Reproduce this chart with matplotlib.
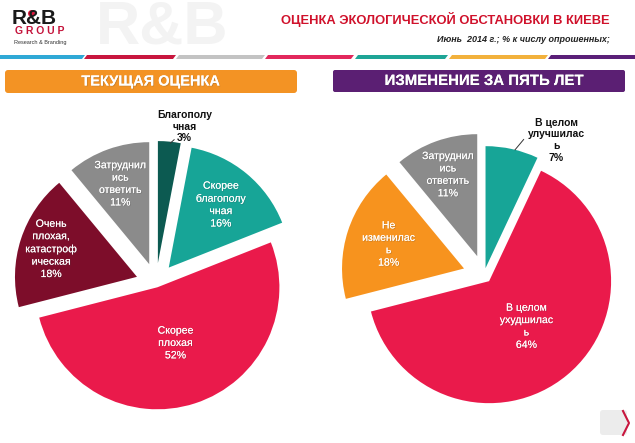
import matplotlib
matplotlib.use("Agg")
import matplotlib.pyplot as plt
import matplotlib.patheffects as pe
from matplotlib.patches import FancyBboxPatch, Polygon
import numpy as np

plt.rcParams['font.family'] = ['Liberation Sans', 'DejaVu Sans']

# текущая оценка
cur_names = ["Благополу\nчная", "Скорее\nблагополу\nчная", "Скорее\nплохая",
             "Очень\nплохая,\nкатастроф\nическая", "Затруднил\nись\nответить"]
cur_vals = [3, 16, 52, 18, 11]
cur_colors = ["#0c5a51", "#17a597", "#ea1a4b", "#7d0d2a", "#8b8b8b"]

# изменение за пять лет
chg_names = ["В целом\nулучшилас\nь", "В целом\nухудшилас\nь",
             "Не\nизменилас\nь", "Затруднил\nись\nответить"]
chg_vals = [7, 64, 18, 11]
chg_colors = ["#17a597", "#ea1a4b", "#f7931e", "#8b8b8b"]

title = "ОЦЕНКА ЭКОЛОГИЧЕСКОЙ ОБСТАНОВКИ В КИЕВЕ"
subtitle = "Июнь  2014 г.; % к числу опрошенных;"
left_head = "ТЕКУЩАЯ ОЦЕНКА"
right_head = "ИЗМЕНЕНИЕ ЗА ПЯТЬ ЛЕТ"

W, H = 635, 443
R = 122

fig = plt.figure(figsize=(6.35, 4.43), dpi=100)
ax = fig.add_axes([0, 0, 1, 1])

shadow = [pe.withSimplePatchShadow(offset=(0.6, -0.6), shadow_rgbFace='#444444', alpha=0.25), pe.Normal()]


def pt(w, frac, ang):
    a = np.radians(ang)
    return w.center[0] + frac * w.r * np.cos(a), w.center[1] + frac * w.r * np.sin(a)


def draw_pie(vals, names, colors, center, explode, dists, outside):
    wedges, _ = ax.pie(vals, colors=colors, startangle=90, counterclock=False,
                       center=center, radius=R, explode=explode)
    for i, w in enumerate(wedges):
        txt = f"{names[i]}\n{vals[i]}%"
        if i in outside:
            d, ang, l0, l1 = outside[i]
            x, y = pt(w, d, ang)
            ax.text(x, y, txt, ha='center', va='center', fontsize=7.5,
                    weight='bold', color='#111111', linespacing=1.2)
            p0 = pt(w, *l0)
            p1 = pt(w, *l1)
            ax.plot([p0[0], p1[0]], [p0[1], p1[1]], color='#333333', lw=0.7)
        else:
            mid = (w.theta1 + w.theta2) / 2
            x, y = pt(w, dists[i], mid)
            ax.text(x, y, txt, ha='center', va='center', fontsize=7.6,
                    color='white', linespacing=1.3, path_effects=shadow)


draw_pie(cur_vals, cur_names, cur_colors, (156, H - 283),
         [20, 20, 4.5, 20, 20], [0, 0.67, 0.48, 0.74, 0.7],
         {0: (1.14, 79, (0.99, 84), (1.02, 82.5))})
draw_pie(chg_vals, chg_names, chg_colors, (484, H - 275),
         [7, 8, 21, 20], [0, 0.48, 0.65, 0.71],
         {0: (1.2, 61, (1.0, 76), (1.1, 73.5))})

# шапка
ax.text(610, H - 19, title, ha='right', va='center', fontsize=9.3,
        weight='bold', color='#d0112b')
ax.text(610, H - 39, subtitle, ha='right', va='center', fontsize=6.5,
        weight='bold', style='italic', color='#222222')

# логотип
ax.text(162, H - 28, "R&B", ha='center', va='center', fontsize=44,
        weight='bold', color='#f3f3f3', zorder=0)
ax.text(12, H - 18, "R&B", ha='left', va='center', fontsize=15,
        weight='bold', color='#1a1a1a')
ax.plot([31], [H - 13], 'o', color='#e0163c', ms=4)
ax.text(40, H - 31, "G R O U P", ha='center', va='center', fontsize=7.5,
        weight='bold', color='#c4123a')
ax.text(40, H - 42, "Research & Branding", ha='center', va='center',
        fontsize=4, color='#333333')

# цветные полосы
stripes = [(-5, 82, "#2fa9d6"), (84, 173, "#c8163e"), (176, 262, "#c3c3c3"),
           (265, 351, "#e2285c"), (355, 445, "#1ea596"), (449, 545, "#f2b13c"),
           (548, 640, "#5a1f78")]
for x0, x1, c in stripes:
    ax.add_patch(Polygon([(x0, H - 59), (x1, H - 59), (x1 + 3, H - 55), (x0 + 3, H - 55)],
                         closed=True, fc=c, ec='none'))

# заголовки блоков
ax.add_patch(FancyBboxPatch((5, H - 93), 292, 23, boxstyle='round,pad=0,rounding_size=3',
                            fc='#f39324', ec='none'))
ax.text(151, H - 81.5, left_head, ha='center', va='center', fontsize=10.5,
        weight='bold', color='white', path_effects=shadow)
ax.add_patch(FancyBboxPatch((333, H - 92), 292, 22, boxstyle='round,pad=0,rounding_size=2',
                            fc='#5b1f73', ec='none'))
ax.text(484, H - 81, right_head, ha='center', va='center', fontsize=10.8,
        weight='bold', color='white', path_effects=shadow)

# кнопка
ax.add_patch(FancyBboxPatch((600, H - 435), 27, 25, boxstyle='round,pad=0,rounding_size=3',
                            fc='#ececec', ec='none'))
ax.plot([623, 629, 623], [H - 411, H - 423, H - 435], color='#c8163e', lw=1.5)

ax.set_xlim(0, W)
ax.set_ylim(0, H)
ax.set_aspect('equal')
ax.axis('off')

fig.savefig("out.png", dpi=100, facecolor='white')
